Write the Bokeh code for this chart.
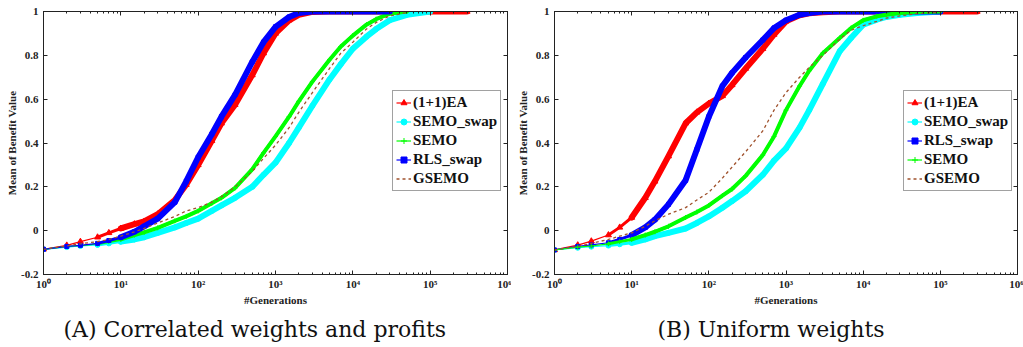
from bokeh.plotting import figure
from bokeh.layouts import row
from bokeh.models import (LogAxis, LinearAxis, Legend, LegendItem, FixedTicker,
                          Title, Range1d, LogTicker)
from bokeh.embed import file_html
from bokeh.resources import INLINE

# generations (x grid shared by all series)
gens = [1, 2, 3, 5, 7, 10, 15, 20, 30, 50, 70, 100, 150, 200, 300, 500, 700,
        1000, 1500, 2000, 3000, 5000, 7000, 10000, 15000, 20000, 30000, 50000,
        100000, 300000]

# (A) Correlated weights and profits
a_ea = [-0.085, -0.067, -0.05, -0.03, -0.01, 0.01, 0.03, 0.042, 0.075, 0.14, 0.21, 0.30,
        0.41, 0.49, 0.575, 0.71, 0.81, 0.90, 0.96, 0.985, 0.998, 1, 1, 1, 1, 1, 1, 1, 1, 1]
a_semo_swap = [-0.085, -0.075, -0.07, -0.065, -0.058, -0.05, -0.04, -0.03, -0.01, 0.015,
               0.035, 0.055, 0.09, 0.115, 0.15, 0.2, 0.255, 0.31, 0.4, 0.47, 0.57, 0.69,
               0.76, 0.83, 0.885, 0.92, 0.96, 0.985, 1.0]
a_semo = [-0.085, -0.072, -0.068, -0.06, -0.05, -0.04, -0.02, -0.008, 0.013, 0.045, 0.065,
          0.09, 0.125, 0.15, 0.195, 0.28, 0.355, 0.43, 0.52, 0.59, 0.68, 0.78, 0.84, 0.89,
          0.94, 0.965, 0.99, 1.0]
a_rls_swap = [-0.085, -0.072, -0.067, -0.058, -0.045, -0.03, -0.005, 0.02, 0.055, 0.13,
              0.225, 0.335, 0.44, 0.52, 0.62, 0.77, 0.86, 0.93, 0.975, 0.993, 1, 1, 1, 1,
              1, 1, 1]
a_gsemo = [-0.085, -0.07, -0.06, -0.05, -0.04, -0.025, -0.005, 0.01, 0.035, 0.065, 0.09,
           0.105, 0.13, 0.155, 0.2, 0.27, 0.33, 0.39, 0.47, 0.54, 0.63, 0.74, 0.81, 0.86,
           0.92, 0.95, 0.98, 0.995]

# (B) Uniform weights
b_ea = [-0.088, -0.066, -0.048, -0.02, 0.015, 0.06, 0.15, 0.225, 0.34, 0.49, 0.54, 0.58,
        0.615, 0.665, 0.74, 0.83, 0.895, 0.955, 0.983, 0.992, 0.997, 1, 1, 1, 1, 1, 1, 1, 1, 1]
b_semo_swap = [-0.088, -0.078, -0.073, -0.068, -0.062, -0.055, -0.04, -0.025, -0.01, 0.01,
               0.035, 0.065, 0.105, 0.135, 0.18, 0.255, 0.32, 0.375, 0.47, 0.55, 0.67,
               0.82, 0.88, 0.94, 0.963, 0.975, 0.985, 0.993, 1.0]
b_rls_swap = [-0.088, -0.072, -0.065, -0.055, -0.04, -0.02, 0.015, 0.05, 0.12, 0.23, 0.37,
              0.52, 0.66, 0.72, 0.79, 0.87, 0.925, 0.96, 0.985, 0.993, 1, 1, 1, 1, 1, 1, 1,
              1, 1]
b_semo = [-0.088, -0.075, -0.07, -0.06, -0.05, -0.04, -0.02, -0.005, 0.02, 0.06, 0.085,
          0.115, 0.16, 0.19, 0.25, 0.345, 0.43, 0.55, 0.66, 0.73, 0.81, 0.88, 0.925, 0.96,
          0.978, 0.985, 0.993, 0.998, 1.0]
b_gsemo = [-0.088, -0.072, -0.058, -0.04, -0.025, -0.01, 0.02, 0.045, 0.075, 0.105, 0.14,
           0.175, 0.24, 0.29, 0.36, 0.455, 0.55, 0.63, 0.7, 0.745, 0.8, 0.875, 0.915, 0.935,
           0.955, 0.97, 0.98, 0.99, 0.998]

x_ticks = [1, 10, 100, 1000, 10000, 100000, 1000000]
x_tick_labels = ["10\u2070", "10\u00b9", "10\u00b2", "10\u00b3", "10\u2074", "10\u2075", "10\u2076"]
y_ticks = [-0.2, 0, 0.2, 0.4, 0.6, 0.8, 1]
y_tick_labels = ["-0.2", "0", "0.2", "0.4", "0.6", "0.8", "1"]

STYLE = {
    "(1+1)EA": dict(color="#ff0000", marker="triangle", size=6, width=6, dash="solid"),
    "SEMO_swap": dict(color="#00ffff", marker="circle", size=5, width=6, dash="solid"),
    "SEMO": dict(color="#00ff00", marker="cross", size=5, width=4, dash="solid"),
    "RLS_swap": dict(color="#0000ff", marker="square", size=4, width=6, dash="solid"),
    "GSEMO": dict(color="#a0522d", marker=None, size=0, width=1.3, dash="3 3"),
}

SERIF = "Liberation Serif"
AX = "#222222"


def make_panel(series, caption, width, mb_right, cap_offset):
    p = figure(width=width, height=347, x_axis_type="log",
               x_range=Range1d(1, 1e6), y_range=Range1d(-0.2, 1),
               output_backend="svg", toolbar_location=None,
               min_border_left=43, min_border_right=mb_right,
               min_border_top=11, min_border_bottom=20)
    p.grid.visible = False
    p.outline_line_color = AX
    p.background_fill_color = "white"
    p.border_fill_color = "white"

    xa = p.xaxis[0]
    xa.ticker = LogTicker(desired_num_ticks=7, num_minor_ticks=10)
    xa.major_label_overrides = {t: l for t, l in zip(x_ticks, x_tick_labels)}
    ya = p.yaxis[0]
    ya.ticker = FixedTicker(ticks=y_ticks)
    ya.major_label_overrides = {t: l for t, l in zip(y_ticks, y_tick_labels)}
    xa.axis_label = "#Generations"
    ya.axis_label = "Mean of Benefit Value"

    top = LogAxis(ticker=LogTicker(desired_num_ticks=7, num_minor_ticks=10))
    right = LinearAxis(ticker=FixedTicker(ticks=y_ticks))
    p.add_layout(top, "above")
    p.add_layout(right, "right")

    for ax in (xa, ya, top, right):
        ax.axis_line_color = AX
        ax.major_tick_line_color = AX
        ax.minor_tick_line_color = AX
        ax.major_tick_in = 4
        ax.major_tick_out = 0
        ax.minor_tick_in = 2
        ax.minor_tick_out = 0
        ax.major_label_text_font = SERIF
        ax.major_label_text_font_style = "bold"
        ax.major_label_text_font_size = "11px"
        ax.major_label_text_color = "#222222"
        ax.axis_label_text_font = SERIF
        ax.axis_label_text_font_style = "bold"
        ax.axis_label_text_font_size = "11px"
        ax.axis_label_text_color = "#222222"
    for ax in (top, right):
        ax.major_label_text_font_size = "1px"
        ax.major_label_text_alpha = 0
        ax.major_label_standoff = 0
    ya.minor_tick_line_color = None
    right.minor_tick_line_color = None
    xa.major_label_standoff = 3
    xa.axis_label_standoff = 1
    ya.major_label_standoff = 5
    ya.axis_label_standoff = 0

    items = []
    for name, vals in series:
        st = STYLE[name]
        xs = gens[:len(vals)]
        thin = p.line(xs, vals, line_color=st["color"], line_width=1.2 if st["marker"] else st["width"],
                      line_dash=st["dash"])
        rends = [thin]
        if st["marker"]:
            p.line(xs[3:], vals[3:], line_color=st["color"], line_width=3, line_cap="round")
            p.line(xs[5:], vals[5:], line_color=st["color"], line_width=st["width"],
                   line_cap="round", line_join="round")
            sc = p.scatter(xs, vals, marker=st["marker"], size=st["size"],
                           line_color=st["color"], fill_color=st["color"])
            rends.append(sc)
        items.append(LegendItem(label=name, renderers=rends))

    leg = Legend(items=items, location=(349, 83))
    leg.label_text_font = SERIF
    leg.label_text_font_style = "bold"
    leg.label_text_font_size = "15px"
    leg.label_text_color = "#111111"
    leg.label_height = 15
    leg.glyph_height = 15
    leg.glyph_width = 15
    leg.spacing = 2
    leg.padding = 3
    leg.margin = 0
    leg.label_standoff = 2
    leg.border_line_color = "#444444"
    leg.border_line_width = 1
    p.add_layout(leg, "center")

    cap = Title(text=caption, align="left", text_font="DejaVu Serif",
                text_font_size="22px", text_font_style="normal", text_color="#111111",
                standoff=12, offset=cap_offset)
    p.add_layout(cap, "below")
    return p


p1 = make_panel([("(1+1)EA", a_ea), ("SEMO_swap", a_semo_swap), ("SEMO", a_semo),
                 ("RLS_swap", a_rls_swap), ("GSEMO", a_gsemo)],
                "(A) Correlated weights and profits", 511, 4, 20)
p2 = make_panel([("(1+1)EA", b_ea), ("SEMO_swap", b_semo_swap), ("RLS_swap", b_rls_swap),
                 ("SEMO", b_semo), ("GSEMO", b_gsemo)],
                "(B) Uniform weights", 512, 6, 103)

layout = row(p1, p2, spacing=0)
open("out.html", "w").write(file_html(layout, INLINE))
